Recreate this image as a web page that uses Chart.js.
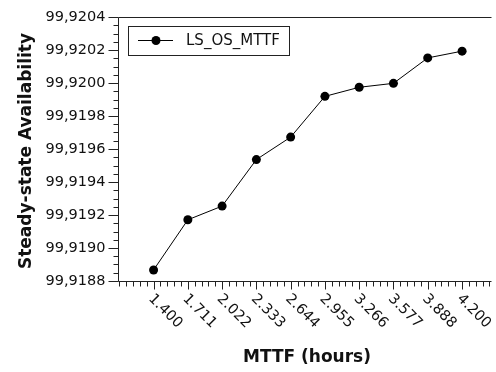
<!DOCTYPE html>
<html>
<head>
<meta charset="utf-8">
<script src="https://cdn.jsdelivr.net/npm/chart.js@4.4.0/dist/chart.umd.min.js"></script>
<style>
  html, body { margin: 0; padding: 0; background: #fff; }
  #wrap { width: 496px; height: 372px; }
</style>
</head>
<body>
<div id="wrap"><canvas id="myChart" width="496" height="372"></canvas></div>
<script>
// MTTF values (hours) and the availability
const mttf = [1.400, 1.711, 2.022, 2.333, 2.644, 2.955, 3.266, 3.577, 3.888, 4.200];
const xTickLabels = ["1.400", "1.711", "2.022", "2.333", "2.644", "2.955", "3.266", "3.577", "3.888", "4.200"];
const availability = [
  99.918867, 99.919171, 99.919254, 99.919536, 99.919672,
  99.919919, 99.919974, 99.919998, 99.920152, 99.920193,
];
const yTicks = [99.9188, 99.9190, 99.9192, 99.9194, 99.9196, 99.9198, 99.9200, 99.9202, 99.9204];
const yTickLabels = ["99,9188", "99,9190", "99,9192", "99,9194", "99,9196", "99,9198", "99,9200", "99,9202", "99,9204"];
const seriesName = "LS_OS_MTTF";

const FONT = "'DejaVu Sans', Verdana, sans-serif";

// draws axes, ticks, labels, titles and the boxed legend
const axesPlugin = {
  id: "axesPlugin",
  afterDraw: (chart) => {
    const { ctx, chartArea } = chart;
    const xs = chart.scales.x;
    const ys = chart.scales.y;
    const L = Math.round(chartArea.left) + 0.5;
    const T = Math.round(chartArea.top) + 0.5;
    const B = Math.round(chartArea.bottom) + 0.5;
    const R = chartArea.right;

    ctx.save();
    ctx.strokeStyle = "#222";
    ctx.lineWidth = 1;
    ctx.beginPath();
    ctx.moveTo(L, T); ctx.lineTo(R, T);
    ctx.moveTo(L, T); ctx.lineTo(L, B);
    ctx.moveTo(L, B); ctx.lineTo(R, B);
    ctx.stroke();

    // y ticks
    ctx.fillStyle = "#111";
    ctx.font = "14.5px " + FONT;
    ctx.textAlign = "right";
    ctx.textBaseline = "middle";
    ctx.beginPath();
    for (let i = 0; i < yTicks.length; i++) {
      const py = Math.round(ys.getPixelForValue(yTicks[i])) + 0.5;
      ctx.moveTo(L - 10, py); ctx.lineTo(L, py);
      ctx.fillText(yTickLabels[i], L - 13, py);
      if (i < yTicks.length - 1) {
        for (let k = 1; k < 4; k++) {
          const v = yTicks[i] + (yTicks[i + 1] - yTicks[i]) * k / 4;
          const my = Math.round(ys.getPixelForValue(v)) + 0.5;
          ctx.moveTo(L - 5, my); ctx.lineTo(L, my);
        }
      }
    }
    ctx.stroke();

    // x ticks (major + 4 minor between)
    const step = mttf[1] - mttf[0];
    ctx.beginPath();
    for (let v = mttf[0] - step; v <= xs.max; v += step / 5) {
      const px = Math.round(xs.getPixelForValue(v)) + 0.5;
      if (px <= L) continue;
      ctx.moveTo(px, B); ctx.lineTo(px, B + 5);
    }
    mttf.forEach((v) => {
      const px = Math.round(xs.getPixelForValue(v)) + 0.5;
      ctx.moveTo(px, B); ctx.lineTo(px, B + 8);
    });
    ctx.stroke();

    ctx.textAlign = "left";
    ctx.textBaseline = "middle";
    mttf.forEach((v, i) => {
      const px = xs.getPixelForValue(v);
      ctx.save();
      ctx.translate(px - 3, B + 15);
      ctx.rotate(Math.PI / 4);
      ctx.fillText(xTickLabels[i], 0, 0);
      ctx.restore();
    });

    // axis titles
    ctx.font = "bold 17px " + FONT;
    ctx.textAlign = "center";
    ctx.textBaseline = "middle";
    ctx.fillText("MTTF (hours)", (L + R) / 2 + 2, 358);
    ctx.save();
    ctx.translate(27, 151);
    ctx.rotate(-Math.PI / 2);
    ctx.fillText("Steady-state Availability", 0, 0);
    ctx.restore();

    // legend
    ctx.fillStyle = "#fff";
    ctx.fillRect(128.5, 26.5, 161, 29);
    ctx.strokeRect(128.5, 26.5, 161, 29);
    ctx.strokeStyle = "#000";
    ctx.beginPath();
    ctx.moveTo(138, 40.5); ctx.lineTo(173, 40.5);
    ctx.stroke();
    ctx.fillStyle = "#000";
    ctx.beginPath();
    ctx.arc(156, 40.5, 4.5, 0, Math.PI * 2);
    ctx.fill();
    ctx.fillStyle = "#111";
    ctx.font = "15px " + FONT;
    ctx.textAlign = "left";
    ctx.fillText(seriesName, 186, 41);
    ctx.restore();
  },
};

const ctx = document.getElementById("myChart");

new Chart(ctx, {
  type: "line",
  data: {
    datasets: [
      {
        label: seriesName,
        data: mttf.map((x, i) => ({ x: x, y: availability[i] })),
        borderColor: "#000",
        backgroundColor: "#000",
        borderWidth: 1,
        pointRadius: 4.5,
        pointHoverRadius: 4.5,
        pointBorderWidth: 0,
        tension: 0,
      },
    ],
  },
  options: {
    responsive: false,
    animation: false,
    events: [],
    layout: { padding: { left: 118, top: 17, right: 0, bottom: 91 } },
    plugins: { legend: { display: false }, tooltip: { enabled: false } },
    scales: {
      x: { type: "linear", display: false, min: 1.077, max: 4.467 },
      y: { type: "linear", display: false, min: 99.9188, max: 99.9204 },
    },
  },
  plugins: [axesPlugin],
});
</script>
</body>
</html>
